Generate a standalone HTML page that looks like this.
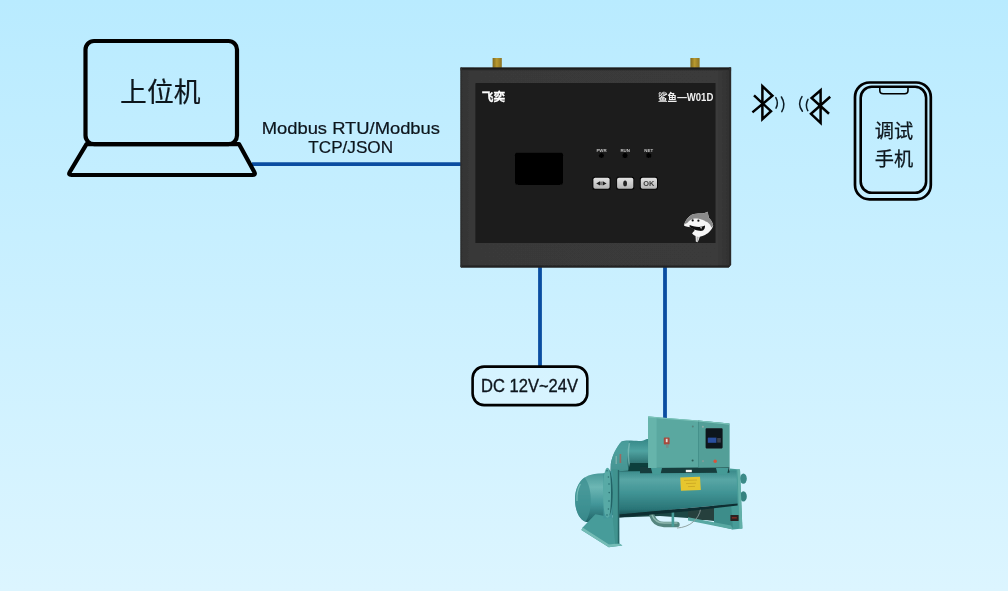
<!DOCTYPE html>
<html lang="zh-CN">
<head>
<meta charset="utf-8">
<title>鲨鱼-W01D 系统连接示意图</title>
<style>
html,body{margin:0;padding:0;background:#cdf0ff;}
body{width:1008px;height:591px;overflow:hidden;position:relative;
 font-family:"Liberation Sans","Noto Sans CJK SC",sans-serif;}
#stage{position:absolute;left:0;top:0;width:1008px;height:591px;
 background:linear-gradient(to bottom,#b9ebff 0%,#dcf5ff 100%);}
svg{position:absolute;left:0;top:0;display:block;}
text{font-family:"Liberation Sans","Noto Sans CJK SC",sans-serif;}
</style>
</head>
<body>
<div id="stage">
<svg width="1008" height="591" viewBox="0 0 1008 591">
<defs>
  <linearGradient id="gAnt" x1="0" y1="0" x2="1" y2="0">
    <stop offset="0" stop-color="#7d6820"/><stop offset="0.45" stop-color="#b8992f"/><stop offset="1" stop-color="#8a7224"/>
  </linearGradient>
  <linearGradient id="gBtn" x1="0" y1="0" x2="0" y2="1">
    <stop offset="0" stop-color="#e2e2e2"/><stop offset="1" stop-color="#b5b5b5"/>
  </linearGradient>
  <linearGradient id="gCyl" x1="0" y1="0" x2="0" y2="1">
    <stop offset="0" stop-color="#3a8a8a"/><stop offset="0.2" stop-color="#58a6a5"/><stop offset="0.5" stop-color="#409394"/><stop offset="0.85" stop-color="#2a7577"/><stop offset="1" stop-color="#164c4f"/>
  </linearGradient>
  <linearGradient id="gCap" x1="0" y1="0" x2="0" y2="1">
    <stop offset="0" stop-color="#4a9a9a"/><stop offset="0.28" stop-color="#6db7b4"/><stop offset="0.62" stop-color="#43979a"/><stop offset="1" stop-color="#1f6366"/>
  </linearGradient>
  <linearGradient id="gComp" x1="0" y1="0" x2="0" y2="1">
    <stop offset="0" stop-color="#348686"/><stop offset="0.35" stop-color="#4fa3a1"/><stop offset="1" stop-color="#164d4e"/>
  </linearGradient>
  <linearGradient id="gFrame" x1="0" y1="0" x2="1" y2="0">
    <stop offset="0" stop-color="#333333"/><stop offset="0.05" stop-color="#393939"/><stop offset="0.95" stop-color="#3a3a3a"/><stop offset="1" stop-color="#303030"/>
  </linearGradient>
  <linearGradient id="gTopEdge" x1="0" y1="0" x2="0" y2="1">
    <stop offset="0" stop-color="#181818"/><stop offset="0.5" stop-color="#262626"/><stop offset="1" stop-color="#383838" stop-opacity="0"/>
  </linearGradient>
  <filter id="soft" x="-5%" y="-5%" width="110%" height="110%"><feGaussianBlur stdDeviation="0.45"/></filter>
  <filter id="softT" x="-5%" y="-20%" width="110%" height="140%"><feGaussianBlur stdDeviation="0.28"/></filter>
  <filter id="soft2" x="-10%" y="-10%" width="120%" height="120%"><feGaussianBlur stdDeviation="0.3"/></filter>
</defs>

<!-- ===== connection lines ===== -->
<g id="lines" stroke="#0a4da1" stroke-width="3.8" fill="none">
  <line x1="252" y1="164.1" x2="461" y2="164.1"/>
  <line x1="540" y1="267" x2="540" y2="366"/>
  <line x1="665" y1="267" x2="665" y2="418"/>
</g>

<!-- ===== laptop ===== -->
<g id="laptop" fill="none" stroke="#000" stroke-width="4.2" stroke-linejoin="round">
  <rect x="85.5" y="41" width="151.5" height="103.1" rx="8.5" ry="8.5"/>
  <path d="M86.5 144.1 L239 144.1 L254.3 171.9 Q256 175 252.5 175 L71.5 175 Q68 175 69.8 172 Z"/>
</g>
<g id="labels" filter="url(#softT)" fill="#0b141b" stroke="#0b141b" stroke-width="0.2">
<text x="160.3" y="102" font-size="26.8" text-anchor="middle">上位机</text>

<!-- ===== protocol label ===== -->
<text x="261.7" y="133.9" font-size="16.8" textLength="178.3" lengthAdjust="spacingAndGlyphs">Modbus RTU/Modbus</text>
<text x="308.3" y="152.8" font-size="17" textLength="84.8" lengthAdjust="spacingAndGlyphs">TCP/JSON</text>
</g>

<!-- ===== gateway device ===== -->
<g id="device" filter="url(#soft2)">
  <rect x="492.6" y="58" width="9.2" height="11" fill="url(#gAnt)"/>
  <rect x="690.4" y="58" width="9.2" height="11" fill="url(#gAnt)"/>
  <path d="M460.5 67.6 H731.1 V264.8 L728.7 267.4 H461.2 L460.5 266.6 Z" fill="url(#gFrame)"/>
  <rect x="460.5" y="67.6" width="270.6" height="4" fill="url(#gTopEdge)"/>
  <path d="M460.5 265.6 H730.4 L728.7 267.4 H461.2 L460.5 266.6 Z" fill="#202020"/>
  <path d="M728.9 67.6 H731.1 V264.8 L728.9 267.2 Z" fill="#2b2b2b"/>
  <rect x="460.5" y="67.6" width="1.4" height="199.8" fill="#2f2f2f"/>
  <rect x="475.4" y="83.2" width="240.1" height="159.8" fill="#1a1a1a"/>
  <rect x="515" y="152.7" width="48" height="32" rx="2.5" fill="#000"/>
  <!-- leds -->
  <g fill="#050505">
    <circle cx="601.4" cy="155.5" r="2.5"/><circle cx="625" cy="155.5" r="2.5"/><circle cx="648.7" cy="155.5" r="2.5"/>
  </g>
  <g font-size="4.4" font-weight="bold" fill="#c4c4c4" text-anchor="middle">
    <text x="601.5" y="152.1">PWR</text><text x="625.2" y="152.1">RUN</text><text x="648.7" y="152.1">NET</text>
  </g>
  <!-- buttons -->
  <g fill="#060606">
    <rect x="592.4" y="176.8" width="18.2" height="13" rx="2.6"/>
    <rect x="616.1" y="176.8" width="18.2" height="13" rx="2.6"/>
    <rect x="639.8" y="176.8" width="18.2" height="13" rx="2.6"/>
  </g>
  <g fill="url(#gBtn)">
    <rect x="593.4" y="177.8" width="16.2" height="11" rx="1.8"/>
    <rect x="617.1" y="177.8" width="16.2" height="11" rx="1.8"/>
    <rect x="640.8" y="177.8" width="16.2" height="11" rx="1.8"/>
  </g>
  <path d="M596.2 183.4 L600 181.2 L600 185.6 Z M606.6 183.4 L602.8 181.2 L602.8 185.6 Z" fill="#1c1c1c"/>
  <rect x="600" y="181.6" width="2.8" height="3.6" fill="#777"/>
  <ellipse cx="625.1" cy="183.4" rx="1.9" ry="2.9" fill="#222"/>
  <text x="648.9" y="186.1" font-size="7.4" font-weight="bold" fill="#3c3c3c" text-anchor="middle">OK</text>
  <!-- shark logo -->
  <g id="shark">
    <path d="M683.8 224.9 C685.2 221.4 687 218.4 689.6 216.2 C692.4 214.2 695.4 213.6 698.4 213.6 L702.6 213.5 C704.6 213.2 706.2 212.6 707.8 211.8 C708 214 708.4 216.2 709 218 C711 220 712.6 222.4 713.2 225.2 C712.8 227.4 711.8 229.2 710.3 230.8 C708.8 232.6 707 234 705 234.9 C703.4 235.8 701.6 236.4 699.8 236.7 C699.2 238.6 698.6 240.4 697.7 242.2 L695.8 241.4 C695.8 239.6 695.7 237.8 695.5 236 C694.2 235.4 693 234.6 692.1 233.4 C692.6 232.4 693.4 231.6 694.4 231 L694.4 229.4 C692.8 228.8 691.4 228 690.3 227.2 C688.2 227 686.2 226.6 684.6 226 Z" fill="#f6f6f6"/>
    <path d="M683.8 224.9 C685.2 221.4 687 218.4 689.6 216.2 C692.4 214.2 695.4 213.6 698.4 213.6 L702.6 213.5 C704.6 213.2 706.2 212.6 707.8 211.8 C708 214 708.4 216.2 709 218 C711 220 712.6 222.4 713.2 225.2 C712.8 226.2 712.2 227 711.4 227.4 C710.8 225.6 709.8 224.2 708.6 223.2 C707.8 222.2 706.8 221.6 705.6 221.4 C704.4 220.2 702.8 219.6 701.2 219.4 C699.6 218.6 697.8 218.4 696 218.4 C694.2 218.4 692.4 218.8 690.8 219.8 C689.4 220.6 688.2 221.8 687.2 223 C686 223.4 684.8 224.2 683.8 224.9 Z" fill="#8a8a8a"/>
    <circle cx="692.7" cy="220.4" r="1.1" fill="#111"/><circle cx="698.4" cy="220.7" r="1.1" fill="#111"/>
    <path d="M689.8 225 C691 225.6 692.4 226 693.6 226.2 C696 226.8 698.6 227 701 226.8 C702.4 226.6 703.8 226.2 705 225.6 C705.2 227.8 704.4 229.6 703 230.6 C701.8 231 700.4 231 699.2 230.8 C697.4 230.6 695.6 230.2 694 229.6 C692.4 229 691 228 689.8 227 C689.4 226.4 689.4 225.6 689.8 225 Z" fill="#101010"/>
    <path d="M700.2 227 L701.8 226.9 L701.2 229.2 Z" fill="#f4f4f4"/>
    <path d="M696.6 236.6 L698.8 237 L697.7 242.2 L696.6 241.6 Z" fill="#b4b4b4"/>
  </g>
  <text x="481.8" y="100.8" font-size="11.6" font-weight="bold" fill="#fff" stroke="#fff" stroke-width="0.35">飞奕</text>
  <text x="658" y="100.8" font-size="10.4" font-weight="bold" fill="#f0f0f0" textLength="55.3" lengthAdjust="spacingAndGlyphs">鲨鱼—W01D</text>
</g>

<!-- ===== bluetooth ===== -->
<g id="bt" fill="none" stroke="#000" stroke-width="2.5" stroke-linejoin="miter" stroke-linecap="butt" filter="url(#softT)">
  <path d="M752.4 112.4 L772.4 95.8 L762.4 86.2 L762.4 119.2 L771 111.2 L754 95.4"/>
  <path d="M829 113.8 L811.6 98 L820.6 90.2 L820.6 122.8 L811 113.8 L830.2 96.8"/>
</g>
<g id="btw" fill="none" stroke="#0c1c26" stroke-width="1.5" stroke-linecap="round" filter="url(#softT)">
  <path d="M775.8 97.6 Q778.8 103 776 108.2"/>
  <path d="M781.4 97 Q786.2 104.4 781.8 111.6"/>
  <path d="M808 99.4 Q804.8 105.2 807.8 110.6"/>
  <path d="M802 96.6 Q797 104 802.4 111.2"/>
</g>

<!-- ===== chiller unit ===== -->
<g id="chiller" filter="url(#soft)">
  <!-- rear right support + nozzles -->
  <ellipse cx="743.4" cy="478.6" rx="3.4" ry="5.2" fill="#3a8a88"/>
  <ellipse cx="743.4" cy="496.4" rx="3.4" ry="5.2" fill="#348280"/>
  <path d="M729.6 468.6 L740 469.4 L742.4 528.4 L733 529.6 L729.6 520 Z" fill="#479c98"/>
  <path d="M737.4 469.2 L740 469.4 L742.4 528.4 L739.6 528.8 Z" fill="#62b0a8"/>
  <!-- lower rail / shadow under the shell -->
  <path d="M619 512 L688 509 L714 507 L714 521 L688 518 L660 516 L619 517.6 Z" fill="#1c4645"/>
  <rect x="688" y="508.4" width="26.4" height="11.6" fill="#27403e"/>
  <path d="M714 505.6 L731 503.6 L733 529.4 L714 525 Z" fill="#3d8d8a"/>
  <path d="M688 517.2 L731 525.4 L733 529.6 L688 520.6 Z" fill="#58a8a2"/>
  <!-- drain pipe -->
  <path d="M652 515.5 C654 522 658 524.5 664 524.5 L677 524.5" fill="none" stroke="#55867f" stroke-width="5.4" stroke-linecap="round"/>
  <path d="M652 514.8 C654 520.6 658 523 664 523 L677 523" fill="none" stroke="#8fb8b0" stroke-width="1.4" stroke-linecap="round"/>
  <rect x="671.6" y="509.6" width="2.6" height="17" fill="#479c98"/>
  <path d="M700.6 509 C699 519 690 527.4 677 528" fill="none" stroke="#8a9a98" stroke-width="0.9"/>
  <!-- compressor (upper barrel) -->
  <path d="M610.6 473 L610.8 464 C612 456.4 616 447.4 621.6 441.6 C625 440 630 440.6 634 440.8 C638 440.2 641 441.6 643.4 440.6 C645 439.4 647 438.8 648.6 439 L648.6 473 Z" fill="url(#gComp)"/>
  <path d="M610.8 464 C612 456.4 616 447.4 621.6 441.6 L629 441 C626.6 449 626.4 462 629 470.6 L610.6 472 Z" fill="#4c9f9c" opacity="0.85"/>
  <path d="M629.4 443 C628 450 628 461 630.2 468" fill="none" stroke="#8cc8c2" stroke-width="1.6" opacity="0.6"/>
  <path d="M630 463 L648.6 463 L648.6 471.6 L628 471.6 Z" fill="#0f403d"/>
  <rect x="619.6" y="454" width="1.6" height="9" fill="#9a6a62"/>
  <rect x="615.6" y="456" width="1.2" height="8" fill="#7fb5b0"/>
  <!-- main shell -->
  <path d="M606 471.6 L736.4 470.6 L737.6 503.6 L606 515.8 Z" fill="url(#gCyl)"/>
  <path d="M619 514.6 L737.6 503.4 L737.6 505.4 L690 511 L619 517.6 Z" fill="#0f2e30"/>
  <!-- end cap (waterbox) -->
  <path d="M607 473.4 C598 473 590 474 584.6 477.4 C578 482 574.8 490.6 575 500 C575.2 510.4 579 519 585.4 521.8 C591 523.6 599 521.6 607 518 Z" fill="url(#gCap)"/>
  <path d="M584.6 477.4 C578 482 574.8 490.6 575 500 C575.2 510.4 579 519 585.4 521.8 C589.4 516 591 508 590.8 499 C590.6 490 588.6 482.4 584.6 477.4 Z" fill="#3f9192" opacity="0.8"/>
  <path d="M580.4 484 C577.6 489 576.6 495 577 501" fill="none" stroke="#8cccc6" stroke-width="1.2" opacity="0.7"/>
  <!-- front-left leg face + foot -->
  <path d="M595.4 514.2 L612.6 517.4 L619 517.4 L619.2 543.4 L622.4 545.6 L608.8 547.2 L581.4 530 L582.6 527.6 Z" fill="#479c9a"/>
  <path d="M581.4 530 L608.8 547.2 L622.4 545.6 L619.4 543.2 L609 544.4 L582.6 527.6 Z" fill="#74bcb6"/>
  <!-- tube sheet plate -->
  <path d="M612.2 469 L619.2 469 L619.2 543.4 L615.2 543.8 L612.6 517.4 Z" fill="#40938f"/>
  <path d="M617.8 470 L619.2 470 L619.2 543.4 L617.8 543.6 Z" fill="#256668"/>
  <!-- flange ring -->
  <path d="M603.4 473.4 L612.6 471 L612.6 518 L603.4 518.4 Z" fill="#43979a"/>
  <path d="M607.4 467.8 C610.6 467.8 612.8 478.6 612.8 492.8 C612.8 507 610.6 517.8 607.4 517.8 C604.6 517.8 603 507 603 492.8 C603 478.6 604.6 467.8 607.4 467.8 Z" fill="#58aaa6"/>
  <path d="M609.4 469.6 C611.6 473.6 612.8 482 612.8 492.8 C612.8 503.6 611.6 512 609.4 516 C610.6 510 611 502 611 492.8 C611 483.6 610.6 475.6 609.4 469.6 Z" fill="#226466"/>
  <g fill="#2a7072"><circle cx="607" cy="470.8" r="0.8"/><circle cx="608.4" cy="477" r="0.8"/><circle cx="609" cy="484" r="0.8"/><circle cx="609.2" cy="492.6" r="0.8"/><circle cx="609" cy="501" r="0.8"/><circle cx="608.4" cy="509" r="0.8"/><circle cx="607" cy="515" r="0.8"/></g>
  <!-- saddle brackets under the box -->
  <path d="M640 466.4 L729.4 467 L729.4 472.8 L640 473.2 Z" fill="#153d3c"/>
  <path d="M651 468 L662 468 L660.4 474.4 L652.6 474.4 Z M716 468 L728.6 468 L727 474.4 L717.6 474.4 Z" fill="#459a96"/>
  <rect x="685.8" y="469.8" width="6" height="2.4" fill="#f4f6f4"/>
  <!-- control box -->
  <path d="M648.2 416.4 L698.4 420.4 L729.4 423.6 L729.4 467.2 L648.2 468 Z" fill="#5aa8a0"/>
  <path d="M698.4 420.4 L729.4 423.6 L729.4 467.2 L698.4 467.5 Z" fill="#539f98"/>
  <path d="M648.2 416.4 L656.6 417.1 L656.6 468 L648.2 468 Z" fill="#66b4ab"/>
  <path d="M698.1 420.4 L698.7 420.4 L698.7 467.5 L698.1 467.5 Z" fill="#3a8680"/>
  <path d="M648.2 416.4 L698.4 420.4 L729.4 423.6 L729.4 424.8 L698.4 421.6 L648.2 417.6 Z" fill="#7cc4ba"/>
  <!-- display -->
  <rect x="705.6" y="428.2" width="17" height="20.2" rx="0.8" fill="#10151a"/>
  <rect x="707.8" y="437.6" width="8.6" height="5.2" fill="#2a4f9e"/>
  <rect x="717.2" y="438" width="3.6" height="4.6" fill="#3a4250"/>
  <!-- switch + indicators -->
  <rect x="663.8" y="437.6" width="5.8" height="7" rx="0.8" fill="#a84a3c"/>
  <rect x="665.8" y="438.8" width="1.8" height="3.4" fill="#e8dcd8"/>
  <rect x="666" y="444.4" width="2.6" height="3.4" fill="#6f8f8a"/>
  <circle cx="715.2" cy="461.2" r="1.7" fill="#d9533a"/>
  <circle cx="692.8" cy="426.6" r="1" fill="#54827c"/><circle cx="702.9" cy="426.8" r="1" fill="#8fb0aa"/>
  <circle cx="692.6" cy="460.6" r="1" fill="#2c5e58"/><circle cx="703" cy="461.2" r="1.1" fill="#7f9c97"/>
  <!-- warning label -->
  <path d="M680.2 477.4 L700 476.8 L700.8 490 L681 490.8 Z" fill="#e6c62f"/>
  <path d="M684 480.4 L697 480 M686 483.6 L696 483.2 M688 486.6 L695 486.4" stroke="#c9a422" stroke-width="0.8" fill="none"/>
  <!-- nameplate -->
  <rect x="730.4" y="515" width="8.2" height="6" rx="0.6" fill="#2a2220"/>
  <rect x="731.8" y="517" width="5" height="1.6" fill="#7a2a24"/>
</g>

<!-- ===== DC label ===== -->
<rect x="472.6" y="366.6" width="114.7" height="38.5" rx="11.5" fill="#ffffff" fill-opacity="0.15" stroke="#000" stroke-width="2.6" filter="url(#softT)"/>
<text x="481" y="391.8" font-size="17.6" textLength="97" lengthAdjust="spacingAndGlyphs" fill="#0b141b" stroke="#0b141b" stroke-width="0.32" filter="url(#softT)">DC 12V~24V</text>

<!-- ===== phone ===== -->
<g id="phone" fill="none" stroke="#000" filter="url(#softT)">
  <rect x="855" y="82.5" width="75.8" height="116.9" rx="14.5" stroke-width="2.7"/>
  <rect x="860.7" y="86.8" width="65.4" height="105.9" rx="11" stroke-width="2.6"/>
  <path d="M879.8 87.4 L879.8 90.4 Q879.8 93.7 883.2 93.7 L904.6 93.7 Q908 93.7 908 90.4 L908 87.4" stroke-width="1.6"/>
</g>
<g filter="url(#softT)" fill="#0b141b" stroke="#0b141b" stroke-width="0.25" font-size="19.2" text-anchor="middle">
<text x="894" y="138">调试</text>
<text x="894" y="166.4">手机</text>
</g>

</svg>
</div>
</body>
</html>
